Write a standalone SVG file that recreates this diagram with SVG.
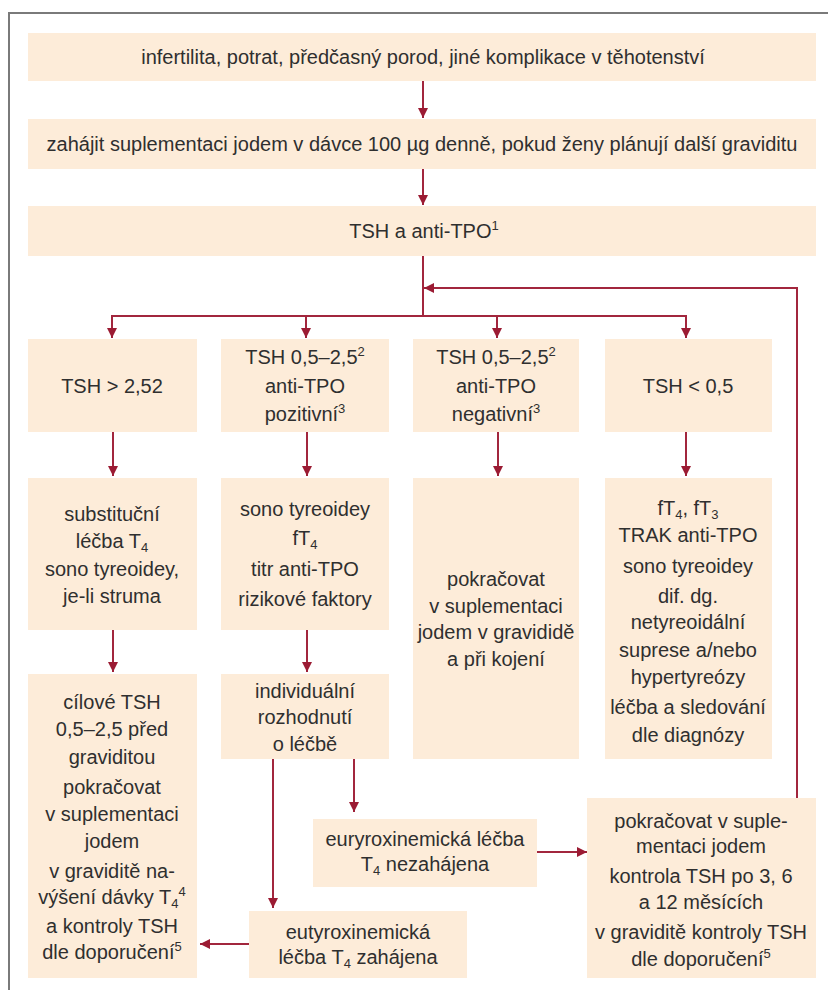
<svg xmlns="http://www.w3.org/2000/svg" width="828" height="990" viewBox="0 0 828 990">
<style>
.box{fill:#fdecd9}
text{font-family:"Liberation Sans",Arial,sans-serif;font-size:20px;fill:#2f2f2f;text-anchor:middle}
.sub{font-size:13px}
.ln{fill:none;stroke:#a2263d;stroke-width:2}
.frame{fill:none;stroke:#7a7a7a;stroke-width:2}
</style>
<defs>
<marker id="ah" markerUnits="userSpaceOnUse" markerWidth="10" markerHeight="10" refX="10" refY="5" orient="auto">
<path d="M0,0 L10,5 L0,10 z" fill="#9b1b33"/>
</marker>
</defs>
<rect width="828" height="990" fill="#ffffff"/>
<path class="frame" d="M9,990 V13 H828"/>

<g id="n1"><rect class="box" x="28" y="33" width="788" height="48"/>
<text x="423" y="64">infertilita, potrat, předčasný porod, jiné komplikace v těhotenství</text></g>
<g id="n2"><rect class="box" x="28" y="119" width="788" height="50"/>
<text x="422" y="151">zahájit suplementaci jodem v dávce 100 µg denně, pokud ženy plánují další graviditu</text></g>
<g id="n3"><rect class="box" x="28" y="206" width="788" height="50"/>
<text x="424" y="238">TSH a anti-TPO<tspan class="sub" dy="-8">1</tspan></text></g>

<g id="a1"><rect class="box" x="28" y="339" width="169" height="93"/>
<text x="112" y="393">TSH &gt; 2,52</text></g>
<g id="b1"><rect class="box" x="221" y="339" width="168" height="93"/>
<text x="305" y="364">TSH 0,5–2,5<tspan class="sub" dy="-8">2</tspan></text>
<text x="305" y="393">anti-TPO</text>
<text x="305" y="421">pozitivní<tspan class="sub" dy="-8">3</tspan></text></g>
<g id="c1"><rect class="box" x="413" y="339" width="166" height="93"/>
<text x="496" y="364">TSH 0,5–2,5<tspan class="sub" dy="-8">2</tspan></text>
<text x="496" y="393">anti-TPO</text>
<text x="496" y="421">negativní<tspan class="sub" dy="-8">3</tspan></text></g>
<g id="d1"><rect class="box" x="605" y="339" width="167" height="93"/>
<text x="688" y="393">TSH &lt; 0,5</text></g>

<g id="a2"><rect class="box" x="28" y="478" width="169" height="152"/>
<text x="112" y="521">substituční</text>
<text x="112" y="548">léčba T<tspan class="sub" dy="4">4</tspan></text>
<text x="112" y="576">sono tyreoidey,</text>
<text x="112" y="603">je-li struma</text></g>
<g id="b2"><rect class="box" x="221" y="478" width="168" height="152"/>
<text x="305" y="516">sono tyreoidey</text>
<text x="305" y="545">fT<tspan class="sub" dy="4">4</tspan></text>
<text x="305" y="576">titr anti-TPO</text>
<text x="305" y="606">rizikové faktory</text></g>
<g id="c2"><rect class="box" x="413" y="478" width="166" height="281"/>
<text x="496" y="586">pokračovat</text>
<text x="496" y="613">v suplementaci</text>
<text x="496" y="639">jodem v gravididě</text>
<text x="496" y="666">a při kojení</text></g>
<g id="d2"><rect class="box" x="605" y="478" width="167" height="281"/>
<text x="688" y="515">fT<tspan class="sub" dy="4">4</tspan><tspan dy="-4">, fT</tspan><tspan class="sub" dy="4">3</tspan></text>
<text x="688" y="542">TRAK anti-TPO</text>
<text x="688" y="573">sono tyreoidey</text>
<text x="688" y="603">dif. dg.</text>
<text x="688" y="629">netyreoidální</text>
<text x="688" y="657">suprese a/nebo</text>
<text x="688" y="684">hypertyreózy</text>
<text x="688" y="714">léčba a sledování</text>
<text x="688" y="742">dle diagnózy</text></g>

<g id="a3"><rect class="box" x="28" y="674" width="169" height="304"/>
<text x="112" y="709">cílové TSH</text>
<text x="112" y="736">0,5–2,5 před</text>
<text x="112" y="764">graviditou</text>
<text x="112" y="794">pokračovat</text>
<text x="112" y="821">v suplementaci</text>
<text x="112" y="848">jodem</text>
<text x="112" y="878">v graviditě na-</text>
<text x="112" y="904">výšení dávky T<tspan class="sub" dy="4">4</tspan><tspan class="sub" dy="-12">4</tspan></text>
<text x="112" y="933">a kontroly TSH</text>
<text x="112" y="959">dle doporučení<tspan class="sub" dy="-8">5</tspan></text></g>
<g id="b3"><rect class="box" x="221" y="674" width="168" height="85"/>
<text x="305" y="698">individuální</text>
<text x="305" y="724">rozhodnutí</text>
<text x="305" y="751">o léčbě</text></g>
<g id="e1"><rect class="box" x="313" y="819" width="224" height="68"/>
<text x="425" y="846">euryroxinemická léčba</text>
<text x="425" y="871">T<tspan class="sub" dy="4">4</tspan><tspan dy="-4"> nezahájena</tspan></text></g>
<g id="e2"><rect class="box" x="249" y="911" width="218" height="67"/>
<text x="358" y="939">eutyroxinemická</text>
<text x="358" y="964">léčba T<tspan class="sub" dy="4">4</tspan><tspan dy="-4"> zahájena</tspan></text></g>
<g id="r1"><rect class="box" x="587" y="798" width="229" height="180"/>
<text x="701" y="828">pokračovat v suple-</text>
<text x="701" y="853">mentaci jodem</text>
<text x="701" y="883">kontrola TSH po 3, 6</text>
<text x="701" y="909">a 12 měsících</text>
<text x="701" y="939">v graviditě kontroly TSH</text>
<text x="701" y="966">dle doporučení<tspan class="sub" dy="-8">5</tspan></text></g>

<g id="connectors">
<path class="ln" marker-end="url(#ah)" d="M423,81 V118"/>
<path class="ln" marker-end="url(#ah)" d="M423,169 V205"/>
<path class="ln" d="M423,256 V316"/>
<path class="ln" marker-end="url(#ah)" d="M423,316 H112 V338"/>
<path class="ln" marker-end="url(#ah)" d="M423,316 H686 V338"/>
<path class="ln" marker-end="url(#ah)" d="M306,316 V338"/>
<path class="ln" marker-end="url(#ah)" d="M497,316 V338"/>
<path class="ln" marker-end="url(#ah)" d="M797,798 V288 H424"/>
<path class="ln" marker-end="url(#ah)" d="M113,432 V476"/>
<path class="ln" marker-end="url(#ah)" d="M307,432 V476"/>
<path class="ln" marker-end="url(#ah)" d="M498,432 V476"/>
<path class="ln" marker-end="url(#ah)" d="M686,432 V476"/>
<path class="ln" marker-end="url(#ah)" d="M113,630 V672"/>
<path class="ln" marker-end="url(#ah)" d="M307,630 V672"/>
<path class="ln" marker-end="url(#ah)" d="M273,759 V908"/>
<path class="ln" marker-end="url(#ah)" d="M354,759 V812"/>
<path class="ln" marker-end="url(#ah)" d="M537,852 H587"/>
<path class="ln" marker-end="url(#ah)" d="M249,944 H200"/>
</g>
</svg>
